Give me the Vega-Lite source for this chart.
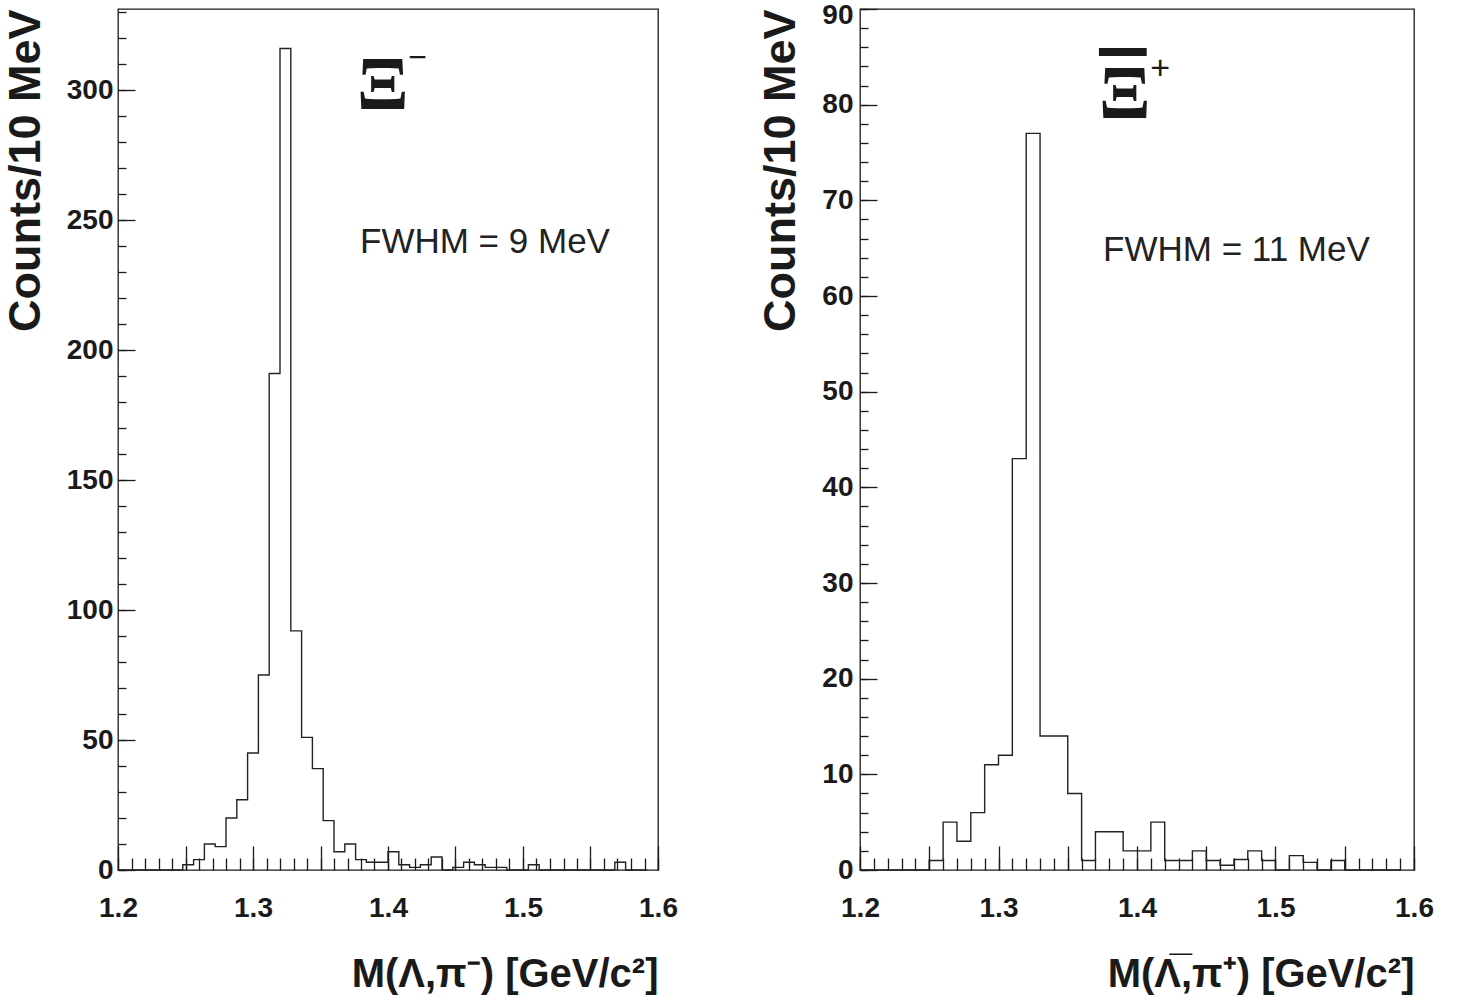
{
  "$schema": "https://vega.github.io/schema/vega-lite/v6.json",
  "background": "white",
  "padding": {"left": 2, "top": 0, "right": 0, "bottom": 0},
  "spacing": 79,
  "config": {
    "view": {"stroke": "#1a1a1a", "strokeWidth": 1.3},
    "axis": {"grid": false, "domain": false, "tickColor": "#1a1a1a", "tickWidth": 1.3, "labelFlush": false, "labelOverlap": false}
  },
  "hconcat": [
    {
      "width": 540,
      "height": 861,
      "data": {"values": [
        {"m": 1.2, "n": 0}, {"m": 1.208, "n": 0}, {"m": 1.216, "n": 0}, {"m": 1.224, "n": 0}, {"m": 1.232, "n": 0},
        {"m": 1.24, "n": 0}, {"m": 1.248, "n": 2}, {"m": 1.256, "n": 4}, {"m": 1.264, "n": 10}, {"m": 1.272, "n": 9},
        {"m": 1.28, "n": 20}, {"m": 1.288, "n": 27}, {"m": 1.296, "n": 45}, {"m": 1.304, "n": 75}, {"m": 1.312, "n": 191},
        {"m": 1.32, "n": 316}, {"m": 1.328, "n": 92}, {"m": 1.336, "n": 51}, {"m": 1.344, "n": 39}, {"m": 1.352, "n": 19},
        {"m": 1.36, "n": 7}, {"m": 1.368, "n": 10}, {"m": 1.376, "n": 4}, {"m": 1.384, "n": 3}, {"m": 1.392, "n": 3},
        {"m": 1.4, "n": 7}, {"m": 1.408, "n": 2}, {"m": 1.416, "n": 1}, {"m": 1.424, "n": 2}, {"m": 1.432, "n": 5},
        {"m": 1.44, "n": 0}, {"m": 1.448, "n": 1}, {"m": 1.456, "n": 3}, {"m": 1.464, "n": 2}, {"m": 1.472, "n": 1},
        {"m": 1.48, "n": 1}, {"m": 1.488, "n": 0}, {"m": 1.496, "n": 0}, {"m": 1.504, "n": 2}, {"m": 1.512, "n": 0},
        {"m": 1.52, "n": 0}, {"m": 1.528, "n": 0}, {"m": 1.536, "n": 0}, {"m": 1.544, "n": 0}, {"m": 1.552, "n": 0},
        {"m": 1.56, "n": 0}, {"m": 1.568, "n": 3}, {"m": 1.576, "n": 0}, {"m": 1.584, "n": 0}, {"m": 1.592, "n": 0}
      ]},
      "layer": [
        {
          "mark": {"type": "line", "interpolate": "step-after", "color": "#222222", "strokeWidth": 1.4},
          "encoding": {
            "x": {"field": "m", "type": "quantitative", "scale": {"domain": [1.2, 1.6], "nice": false, "zero": false},
              "axis": {"orient": "bottom", "values": [1.2, 1.3, 1.4, 1.5, 1.6], "format": ".1f", "ticks": false,
                "labelPadding": 24, "labelFont": "Liberation Sans", "labelFontSize": 28, "labelFontWeight": "bold", "labelColor": "#1a1a1a",
                "title": "M(Λ,π⁻) [GeV/c²]", "titleFont": "Liberation Sans", "titleFontSize": 40, "titleFontWeight": "bold", "titleColor": "#1a1a1a",
                "titleAnchor": "end", "titlePadding": 32}},
            "y": {"field": "n", "type": "quantitative", "scale": {"domain": [0, 331.2], "nice": false},
              "axis": {"orient": "left", "values": [0, 50, 100, 150, 200, 250, 300], "ticks": false,
                "labelPadding": 5, "labelFont": "Liberation Sans", "labelFontSize": 28, "labelFontWeight": "bold", "labelColor": "#1a1a1a",
                "title": "Counts/10 MeV", "titleFont": "Liberation Sans", "titleFontSize": 45, "titleFontWeight": "bold", "titleColor": "#1a1a1a",
                "titleAnchor": "end", "titlePadding": 18}}
          }
        },
        {
          "data": {"values": [{"label": "Ξ"}]},
          "mark": {"type": "text", "font": "Liberation Serif", "fontWeight": "bold", "fontSize": 76, "align": "left", "baseline": "alphabetic", "color": "#1a1a1a"},
          "encoding": {
            "text": {"field": "label"},
            "x": {"datum": 1.377, "type": "quantitative",
              "axis": {"orient": "bottom", "values": [1.2, 1.25, 1.3, 1.35, 1.4, 1.45, 1.5, 1.55, 1.6], "labels": false, "tickSize": -24, "title": null, "minExtent": 0}},
            "y": {"datum": 292.7, "type": "quantitative",
              "axis": {"orient": "left", "values": [0, 50, 100, 150, 200, 250, 300], "labels": false, "tickSize": -17, "title": null, "minExtent": 0}}
          }
        },
        {
          "data": {"values": [{"label": "−"}]},
          "mark": {"type": "text", "font": "Liberation Sans", "fontSize": 32, "align": "left", "baseline": "middle", "color": "#1a1a1a"},
          "encoding": {
            "text": {"field": "label"},
            "x": {"datum": 1.415, "type": "quantitative",
              "axis": {"orient": "bottom", "values": [1.2, 1.21, 1.22, 1.23, 1.24, 1.25, 1.26, 1.27, 1.28, 1.29, 1.3, 1.31, 1.32, 1.33, 1.34, 1.35, 1.36, 1.37, 1.38, 1.39, 1.4, 1.41, 1.42, 1.43, 1.44, 1.45, 1.46, 1.47, 1.48, 1.49, 1.5, 1.51, 1.52, 1.53, 1.54, 1.55, 1.56, 1.57, 1.58, 1.59, 1.6], "labels": false, "tickSize": -12, "title": null, "minExtent": 0}},
            "y": {"datum": 312.3, "type": "quantitative",
              "axis": {"orient": "left", "values": [0, 10, 20, 30, 40, 50, 60, 70, 80, 90, 100, 110, 120, 130, 140, 150, 160, 170, 180, 190, 200, 210, 220, 230, 240, 250, 260, 270, 280, 290, 300, 310, 320, 330], "labels": false, "tickSize": -8, "title": null, "minExtent": 0}}
          }
        },
        {
          "data": {"values": [{"label": "FWHM = 9 MeV"}]},
          "mark": {"type": "text", "font": "Liberation Sans", "fontSize": 35, "align": "left", "baseline": "alphabetic", "color": "#222222"},
          "encoding": {
            "text": {"field": "label"},
            "x": {"datum": 1.3793, "type": "quantitative", "axis": null},
            "y": {"datum": 237.3, "type": "quantitative", "axis": null}
          }
        }
      ],
      "resolve": {"axis": {"x": "independent", "y": "independent"}}
    },
    {
      "width": 554,
      "height": 861,
      "data": {"values": [
        {"m": 1.2, "n": 0}, {"m": 1.21, "n": 0}, {"m": 1.22, "n": 0}, {"m": 1.23, "n": 0}, {"m": 1.24, "n": 0},
        {"m": 1.25, "n": 1}, {"m": 1.26, "n": 5}, {"m": 1.27, "n": 3}, {"m": 1.28, "n": 6}, {"m": 1.29, "n": 11},
        {"m": 1.3, "n": 12}, {"m": 1.31, "n": 43}, {"m": 1.32, "n": 77}, {"m": 1.33, "n": 14}, {"m": 1.34, "n": 14},
        {"m": 1.35, "n": 8}, {"m": 1.36, "n": 1}, {"m": 1.37, "n": 4}, {"m": 1.38, "n": 4}, {"m": 1.39, "n": 2},
        {"m": 1.4, "n": 2}, {"m": 1.41, "n": 5}, {"m": 1.42, "n": 1}, {"m": 1.43, "n": 1}, {"m": 1.44, "n": 2},
        {"m": 1.45, "n": 1}, {"m": 1.46, "n": 0.5}, {"m": 1.47, "n": 1.1}, {"m": 1.48, "n": 2}, {"m": 1.49, "n": 1},
        {"m": 1.5, "n": 0}, {"m": 1.51, "n": 1.5}, {"m": 1.52, "n": 0.8}, {"m": 1.53, "n": 0}, {"m": 1.54, "n": 1},
        {"m": 1.55, "n": 0}, {"m": 1.56, "n": 0}, {"m": 1.57, "n": 0}, {"m": 1.58, "n": 0}, {"m": 1.59, "n": 0}
      ]},
      "layer": [
        {
          "mark": {"type": "line", "interpolate": "step-after", "color": "#222222", "strokeWidth": 1.4},
          "encoding": {
            "x": {"field": "m", "type": "quantitative", "scale": {"domain": [1.2, 1.6], "nice": false, "zero": false},
              "axis": {"orient": "bottom", "values": [1.2, 1.3, 1.4, 1.5, 1.6], "format": ".1f", "ticks": false,
                "labelPadding": 24, "labelFont": "Liberation Sans", "labelFontSize": 28, "labelFontWeight": "bold", "labelColor": "#1a1a1a",
                "title": "M(Λ̅,π⁺) [GeV/c²]", "titleFont": "Liberation Sans", "titleFontSize": 40, "titleFontWeight": "bold", "titleColor": "#1a1a1a",
                "titleAnchor": "end", "titlePadding": 32}},
            "y": {"field": "n", "type": "quantitative", "scale": {"domain": [0, 90], "nice": false},
              "axis": {"orient": "left", "values": [0, 10, 20, 30, 40, 50, 60, 70, 80], "ticks": false,
                "labelPadding": 7, "labelFont": "Liberation Sans", "labelFontSize": 28, "labelFontWeight": "bold", "labelColor": "#1a1a1a",
                "title": "Counts/10 MeV", "titleFont": "Liberation Sans", "titleFontSize": 45, "titleFontWeight": "bold", "titleColor": "#1a1a1a",
                "titleAnchor": "end", "titlePadding": 18}}
          }
        },
        {
          "data": {"values": [{"label": "Ξ"}]},
          "mark": {"type": "text", "font": "Liberation Serif", "fontWeight": "bold", "fontSize": 76, "align": "left", "baseline": "alphabetic", "color": "#1a1a1a"},
          "encoding": {
            "text": {"field": "label"},
            "x": {"datum": 1.3726, "type": "quantitative",
              "axis": {"orient": "bottom", "values": [1.2, 1.25, 1.3, 1.35, 1.4, 1.45, 1.5, 1.55, 1.6], "labels": false, "tickSize": -24, "title": null, "minExtent": 0}},
            "y": {"datum": 78.6, "type": "quantitative",
              "axis": {"orient": "left", "values": [0, 10, 20, 30, 40, 50, 60, 70, 80, 90], "labels": false, "tickSize": -17, "title": null, "minExtent": 0}}
          }
        },
        {
          "data": {"values": [{"label": "+"}]},
          "mark": {"type": "text", "font": "Liberation Sans", "fontSize": 34, "align": "left", "baseline": "middle", "color": "#1a1a1a"},
          "encoding": {
            "text": {"field": "label"},
            "x": {"datum": 1.4095, "type": "quantitative",
              "axis": {"orient": "bottom", "values": [1.2, 1.21, 1.22, 1.23, 1.24, 1.25, 1.26, 1.27, 1.28, 1.29, 1.3, 1.31, 1.32, 1.33, 1.34, 1.35, 1.36, 1.37, 1.38, 1.39, 1.4, 1.41, 1.42, 1.43, 1.44, 1.45, 1.46, 1.47, 1.48, 1.49, 1.5, 1.51, 1.52, 1.53, 1.54, 1.55, 1.56, 1.57, 1.58, 1.59, 1.6], "labels": false, "tickSize": -12, "title": null, "minExtent": 0}},
            "y": {"datum": 83.7, "type": "quantitative",
              "axis": {"orient": "left", "values": [0, 2, 4, 6, 8, 10, 12, 14, 16, 18, 20, 22, 24, 26, 28, 30, 32, 34, 36, 38, 40, 42, 44, 46, 48, 50, 52, 54, 56, 58, 60, 62, 64, 66, 68, 70, 72, 74, 76, 78, 80, 82, 84, 86, 88, 90], "labels": false, "tickSize": -8, "title": null, "minExtent": 0}}
          }
        },
        {
          "data": {"values": [{"label": "bar"}]},
          "mark": {"type": "rule", "color": "#1a1a1a", "strokeWidth": 8},
          "encoding": {
            "x": {"datum": 1.3725, "type": "quantitative", "axis": null},
            "x2": {"datum": 1.407},
            "y": {"datum": 85.5, "type": "quantitative",
              "axis": {"orient": "left", "values": [90], "ticks": false, "labelPadding": 7, "labelOffset": 6,
                "labelFont": "Liberation Sans", "labelFontSize": 28, "labelFontWeight": "bold", "labelColor": "#1a1a1a", "title": null, "minExtent": 0}}
          }
        },
        {
          "data": {"values": [{"label": "FWHM = 11 MeV"}]},
          "mark": {"type": "text", "font": "Liberation Sans", "fontSize": 35, "align": "left", "baseline": "alphabetic", "color": "#222222"},
          "encoding": {
            "text": {"field": "label"},
            "x": {"datum": 1.3755, "type": "quantitative", "axis": null},
            "y": {"datum": 63.7, "type": "quantitative", "axis": null}
          }
        }
      ],
      "resolve": {"axis": {"x": "independent", "y": "independent"}}
    }
  ]
}
